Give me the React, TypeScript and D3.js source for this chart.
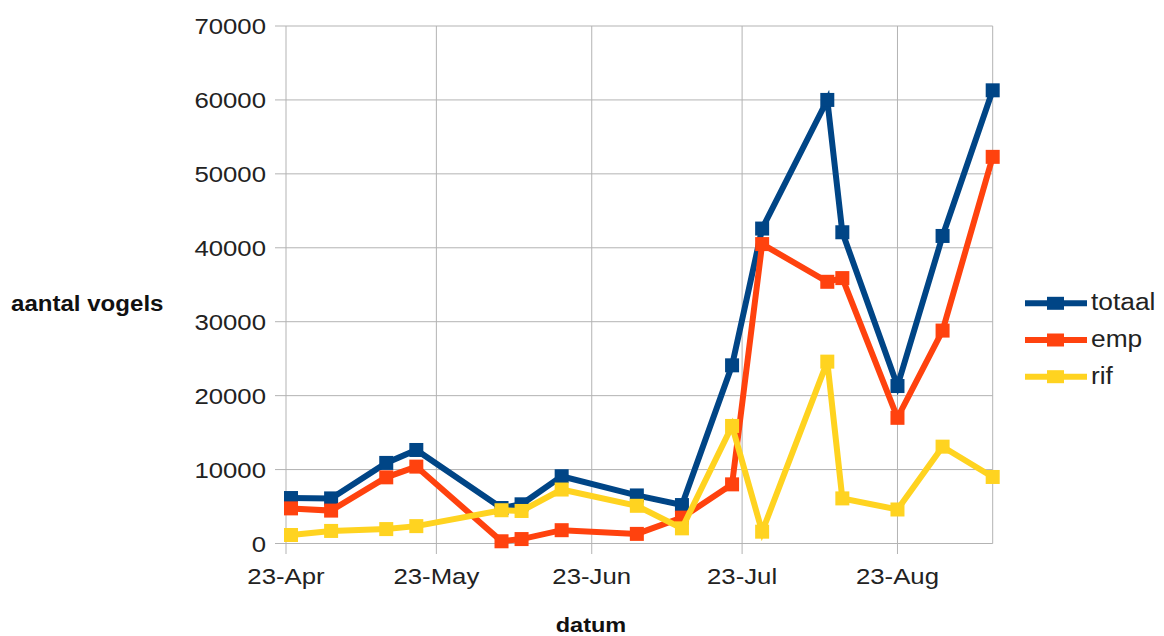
import React from "react";
import * as d3 from "d3";

const dates: string[] = [
  "2019-04-24", "2019-05-02", "2019-05-13", "2019-05-19", "2019-06-05", "2019-06-09",
  "2019-06-17", "2019-07-02", "2019-07-11", "2019-07-21", "2019-07-27", "2019-08-09",
  "2019-08-12", "2019-08-23", "2019-09-01", "2019-09-11",
];
const totaal: number[] = [6150, 6100, 10900, 12650, 4800, 5300, 9100, 6500, 5200, 24100, 42600, 60000, 42100, 21300, 41600, 61300];
const emp: number[] = [4750, 4450, 8950, 10400, 300, 600, 1800, 1300, 3500, 8000, 40500, 35400, 35900, 17000, 28800, 52300];
const rif: number[] = [1150, 1700, 1950, 2350, 4500, 4400, 7300, 5100, 2050, 15900, 1600, 24600, 6100, 4600, 13100, 9000];
const seriesNames: string[] = ["totaal", "emp", "rif"];
const seriesColors: string[] = ["#004586", "#ff420e", "#ffd320"];
const xTickDates: string[] = ["2019-04-23", "2019-05-23", "2019-06-23", "2019-07-23", "2019-08-23"];
const yTicks: number[] = [0, 10000, 20000, 30000, 40000, 50000, 60000, 70000];
const xDomain: string[] = ["2019-04-23", "2019-09-11"];

const W = 1164;
const H = 636;
const FONT = "'Liberation Sans', Arial, sans-serif";
const SX = 1.12;
const GRID = "#b3b3b3";

const parse = d3.timeParse("%Y-%m-%d");
const fmt = d3.timeFormat("%d-%b");

function T(props: { x: number; y: number; anchor?: string; size: number; bold?: boolean; children: React.ReactNode }) {
  return (
    <text
      transform={`translate(${props.x},${props.y}) scale(${SX},1)`}
      textAnchor={props.anchor || "start"}
      fontSize={props.size}
      fontWeight={props.bold ? "bold" : "normal"}
      fontFamily={FONT}
      fill={props.bold ? "#111" : "#222"}
    >
      {props.children}
    </text>
  );
}

export default function App() {
  const left = 286, right = 992.7, top = 26, bottom = 543.5;
  const x = d3.scaleTime().domain(xDomain.map((d) => parse(d) as Date)).range([left, right]);
  const y = d3.scaleLinear().domain([0, 70000]).range([bottom, top]);
  const allSeries = [totaal, emp, rif];
  const pts = dates.map((d) => parse(d) as Date);
  const line = d3.line<[Date, number]>().x((d) => x(d[0])).y((d) => y(d[1]));
  const ms = 14;

  return (
    <svg width={W} height={H} style={{ position: "absolute", left: 0, top: 0, background: "#fff" }}>
      <rect x={0} y={0} width={W} height={H} fill="#fff" />
      {yTicks.map((t) => (
        <g key={"y" + t}>
          <line x1={275} x2={right} y1={y(t)} y2={y(t)} stroke={GRID} strokeWidth={1} />
          <T x={266} y={y(t) + 8.3} anchor="end" size={23}>{String(t)}</T>
        </g>
      ))}
      {xTickDates.map((s) => {
        const d = parse(s) as Date;
        return (
          <g key={"x" + s}>
            <line x1={x(d)} x2={x(d)} y1={top} y2={554} stroke={GRID} strokeWidth={1} />
            <T x={x(d)} y={584.3} anchor="middle" size={23}>{fmt(d)}</T>
          </g>
        );
      })}
      <line x1={right} x2={right} y1={top} y2={bottom} stroke={GRID} strokeWidth={1} />
      {allSeries.map((vals, si) => {
        const data: [Date, number][] = pts.map((p, i) => [p, vals[i]]);
        return (
          <g key={"s" + si}>
            <path d={line(data) || ""} fill="none" stroke={seriesColors[si]} strokeWidth={6} strokeLinejoin="miter" />
            {data.map((d, i) => (
              <rect key={i} x={x(d[0]) - ms / 2} y={y(d[1]) - ms / 2} width={ms} height={ms} fill={seriesColors[si]} />
            ))}
          </g>
        );
      })}
      {seriesNames.map((n, i) => {
        const ry = 303.3 + i * 36.7;
        return (
          <g key={"l" + n}>
            <line x1={1025} x2={1087} y1={ry} y2={ry} stroke={seriesColors[i]} strokeWidth={6} />
            <rect x={1047} y={ry - 6.5} width={17} height={13} fill={seriesColors[i]} />
            <T x={1091} y={ry + 7} size={23.5}>{n}</T>
          </g>
        );
      })}
      <T x={11} y={311} size={21.5} bold>aantal vogels</T>
      <T x={591} y={632} anchor="middle" size={21} bold>datum</T>
    </svg>
  );
}
